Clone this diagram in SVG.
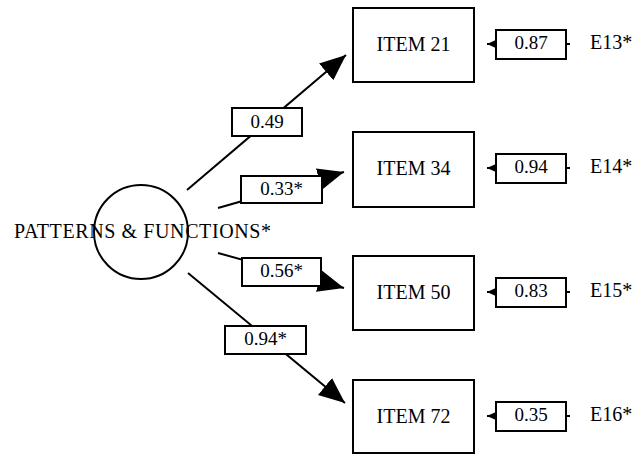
<svg xmlns="http://www.w3.org/2000/svg" width="636" height="454" viewBox="0 0 636 454">
<style>
  text { font-family: 'Liberation Serif', 'Times New Roman', serif; fill: #000; }
  .big { font-size: 20px; }
  .lbl { font-size: 19px; }
  .box { fill: #fff; stroke: #000; stroke-width: 2; }
  .ln { stroke: #000; stroke-width: 2; fill: none; }
</style>
<defs>
  <marker id="ah" markerUnits="userSpaceOnUse" markerWidth="28" markerHeight="24" refX="26" refY="12" orient="auto">
    <path d="M0,1 L26,12 L0,23 Z" fill="#000"/>
  </marker>
  <marker id="ahs" markerUnits="userSpaceOnUse" markerWidth="12" markerHeight="12" refX="11" refY="6" orient="auto">
    <path d="M0,1 L11,6 L0,11 Z" fill="#000"/>
  </marker>
</defs>

<g id="connectors">
  <line class="ln" x1="187" y1="190" x2="346" y2="55" marker-end="url(#ah)"/>
  <line class="ln" x1="218" y1="208" x2="344" y2="172" marker-end="url(#ah)"/>
  <line class="ln" x1="218" y1="253" x2="344" y2="288" marker-end="url(#ah)"/>
  <line class="ln" x1="188" y1="273" x2="345" y2="403" marker-end="url(#ah)"/>

  <line class="ln" x1="570" y1="44" x2="487" y2="44" marker-end="url(#ahs)"/>
  <line class="ln" x1="570" y1="168" x2="487" y2="168" marker-end="url(#ahs)"/>
  <line class="ln" x1="570" y1="292" x2="487" y2="292" marker-end="url(#ahs)"/>
  <line class="ln" x1="570" y1="416" x2="487" y2="416" marker-end="url(#ahs)"/>

  <g id="coef-21"><rect class="box" x="232" y="108" width="70" height="28"/><text class="lbl" x="267" y="128" text-anchor="middle">0.49</text></g>
  <g id="coef-34"><rect class="box" x="241" y="176" width="81" height="27"/><text class="lbl" x="281.5" y="195" text-anchor="middle">0.33*</text></g>
  <g id="coef-50"><rect class="box" x="242" y="258" width="79" height="28"/><text class="lbl" x="281.5" y="277" text-anchor="middle">0.56*</text></g>
  <g id="coef-72"><rect class="box" x="225" y="326" width="81" height="28"/><text class="lbl" x="265.5" y="345" text-anchor="middle">0.94*</text></g>

  <g id="err-21"><rect class="box" x="496" y="30" width="70" height="29"/><text class="lbl" x="531" y="49" text-anchor="middle">0.87</text></g>
  <g id="err-34"><rect class="box" x="496" y="154" width="70" height="29"/><text class="lbl" x="531" y="173" text-anchor="middle">0.94</text></g>
  <g id="err-50"><rect class="box" x="496" y="278" width="70" height="29"/><text class="lbl" x="531" y="297" text-anchor="middle">0.83</text></g>
  <g id="err-72"><rect class="box" x="496" y="402" width="70" height="29"/><text class="lbl" x="531" y="421" text-anchor="middle">0.35</text></g>
</g>

<g id="factor">
  <circle cx="141" cy="232" r="47" fill="none" stroke="#000" stroke-width="2"/>
  <text class="big" x="14" y="238" textLength="257" lengthAdjust="spacing">PATTERNS &amp; FUNCTIONS*</text>
</g>

<g id="item21"><rect class="box" x="353" y="8" width="121" height="74"/><text class="big" x="413.5" y="51" text-anchor="middle">ITEM 21</text></g>
<g id="item34"><rect class="box" x="353" y="132" width="121" height="75"/><text class="big" x="413.5" y="175" text-anchor="middle">ITEM 34</text></g>
<g id="item50"><rect class="box" x="353" y="256" width="121" height="74"/><text class="big" x="413.5" y="299" text-anchor="middle">ITEM 50</text></g>
<g id="item72"><rect class="box" x="353" y="380" width="121" height="73"/><text class="big" x="413.5" y="423" text-anchor="middle">ITEM 72</text></g>

<g id="e13"><text class="big" x="590" y="49">E13*</text></g>
<g id="e14"><text class="big" x="590" y="173">E14*</text></g>
<g id="e15"><text class="big" x="590" y="297">E15*</text></g>
<g id="e16"><text class="big" x="590" y="421">E16*</text></g>
</svg>
